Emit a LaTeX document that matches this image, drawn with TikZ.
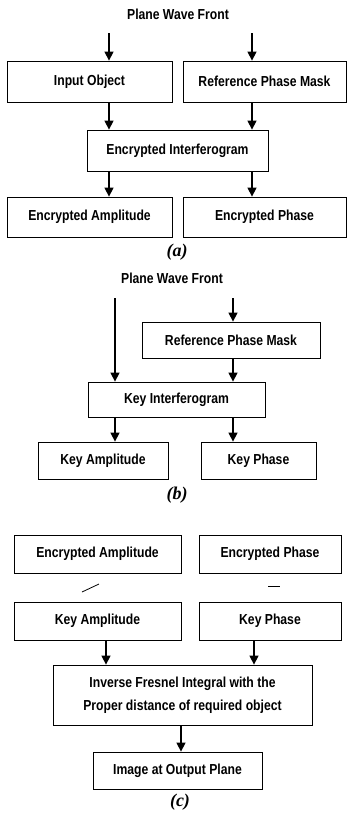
\documentclass[tikz,border=0pt]{standalone}
\usepackage{fontspec}
\newfontfamily\boxfont{Liberation Sans}[FakeStretch=0.84]
\newfontfamily\capfont{Liberation Serif}
\usetikzlibrary{arrows.meta}
\tikzstyle{blk} = [rectangle, inner sep=0, text centered, draw=black, line width=0.8pt, font=\boxfont\bfseries\fontsize{14.5}{23}\selectfont]
\tikzstyle{lbl} = [inner sep=0, font=\boxfont\bfseries\fontsize{14.5}{16}\selectfont]
\tikzstyle{subcap} = [inner sep=0, font=\capfont\bfseries\itshape\fontsize{18}{20}\selectfont]
\tikzstyle{arrow} = [line width=1.3pt,-{Triangle[width=9pt,length=9pt]}]
\begin{document}
\begin{tikzpicture}[x=1pt,y=-1pt]
\useasboundingbox (0,0) rectangle (347,815);

% (a)
\node (pwfa) at (178,14) [lbl] {Plane Wave Front};
\coordinate (a1) at (109,33);
\coordinate (a2) at (252,33);
\node (inobj) at (89.5,81.5) [blk, minimum width=165pt, minimum height=41pt] {Input Object};
\node (refa) at (264.5,81.5) [blk, minimum width=163pt, minimum height=41pt] {Reference Phase Mask};
\node (encint) at (177.5,150.5) [blk, minimum width=181pt, minimum height=41pt] {Encrypted Interferogram};
\node (encamp) at (89.5,217) [blk, minimum width=165pt, minimum height=40pt] {Encrypted Amplitude};
\node (encph) at (264.5,217) [blk, minimum width=163pt, minimum height=40pt] {Encrypted Phase};
\node (capa) at (177,252) [subcap] {(a)};
\draw[arrow] (a1) -- (a1 |- inobj.north);
\draw[arrow] (a2) -- (a2 |- refa.north);
\foreach \c in {a1,a2}{
\draw[arrow] (\c |- inobj.south) -- (\c |- encint.north);
\draw[arrow] (\c |- encint.south) -- (\c |- encamp.north);
}

% (b)
\node (pwfb) at (172,278) [lbl] {Plane Wave Front};
\coordinate (b1) at (115,298);
\coordinate (b2) at (233,298);
\node (refb) at (231,340) [blk, minimum width=178pt, minimum height=36pt] {Reference Phase Mask};
\node (keyint) at (176.5,399.5) [blk, minimum width=177pt, minimum height=35pt] {Key Interferogram};
\node (keyamp) at (103,460.5) [blk, minimum width=130pt, minimum height=37pt] {Key Amplitude};
\node (keyph) at (258.5,460.5) [blk, minimum width=115pt, minimum height=37pt] {Key Phase};
\node (capb) at (177,495) [subcap] {(b)};
\draw[arrow] (b1) -- (b1 |- keyint.north);
\draw[arrow] (b2) -- (b2 |- refb.north);
\draw[arrow] (b2 |- refb.south) -- (b2 |- keyint.north);
\draw[arrow] (b1 |- keyint.south) -- (b1 |- keyamp.north);
\draw[arrow] (b2 |- keyint.south) -- (b2 |- keyph.north);

% (c)
\node (encamp2) at (97.5,554) [blk, minimum width=167pt, minimum height=38pt] {Encrypted Amplitude};
\node (encph2) at (270,554) [blk, minimum width=142pt, minimum height=38pt] {Encrypted Phase};
\node (keyamp2) at (97.5,621) [blk, minimum width=167pt, minimum height=38pt] {Key Amplitude};
\node (keyph2) at (270,621) [blk, minimum width=142pt, minimum height=38pt] {Key Phase};
\node (fresnel) at (182.5,695) [blk, align=center, minimum width=259pt, minimum height=60pt] {Inverse Fresnel Integral with the\\Proper distance of required object};
\node (outimg) at (177.5,770.5) [blk, minimum width=169pt, minimum height=37pt] {Image at Output Plane};
\node (capc) at (180,802) [subcap] {(c)};
\draw[line width=0.8pt] (82,592) -- (99,584);
\draw[line width=0.8pt] (268,586) -- (280,586);
\coordinate (c1) at (106,640);
\coordinate (c2) at (254,640);
\coordinate (c3) at (181,725);
\draw[arrow] (c1 |- keyamp2.south) -- (c1 |- fresnel.north);
\draw[arrow] (c2 |- keyph2.south) -- (c2 |- fresnel.north);
\draw[arrow] (c3 |- fresnel.south) -- (c3 |- outimg.north);

\end{tikzpicture}
\end{document}
